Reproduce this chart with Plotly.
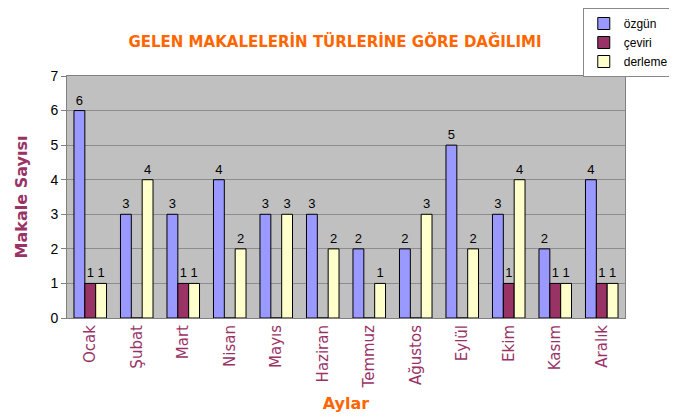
import plotly.graph_objects as go

months = ["Ocak", "Şubat", "Mart", "Nisan", "Mayıs", "Haziran", "Temmuz",
          "Ağustos", "Eylül", "Ekim", "Kasım", "Aralık"]
ozgun = [6, 3, 3, 4, 3, 3, 2, 2, 5, 3, 2, 4]
ceviri = [1, 0, 1, 0, 0, 0, 0, 0, 0, 1, 1, 1]
derleme = [1, 4, 1, 2, 3, 2, 1, 3, 2, 4, 1, 1]

series = [("özgün", ozgun, "#9999FF"), ("çeviri", ceviri, "#993366"), ("derleme", derleme, "#FFFFCC")]

fig = go.Figure()
for name, vals, col in series:
    fig.add_trace(go.Bar(
        x=months, y=vals, name=name,
        marker=dict(color=col, line=dict(color="black", width=1)),
        text=[str(v) if v else "" for v in vals],
        textposition="outside", cliponaxis=False,
        textfont=dict(family="Liberation Sans", size=13, color="black"),
    ))

fig.update_layout(
    width=677, height=419,
    margin=dict(l=59, r=60, t=68, b=109, autoexpand=False),
    paper_bgcolor="white", plot_bgcolor="#C0C0C0",
    barmode="group", bargap=0.3, bargroupgap=0,
    font=dict(family="DejaVu Sans"),
    title=dict(text="<b>GELEN MAKALELERİN TÜRLERİNE GÖRE DAĞILIMI</b>",
               x=0.483, xanchor="center", y=0.919, yanchor="middle",
               font=dict(size=15, color="#FF6600", family="DejaVu Sans")),
    showlegend=True,
    legend=dict(xref="container", yref="container", x=0.849, y=1.0,
                xanchor="left", yanchor="top", bgcolor="white",
                bordercolor="#888888", borderwidth=1,
                font=dict(size=12, color="black", family="Liberation Sans"),
                tracegroupgap=0, itemwidth=30),
)
fig.update_xaxes(
    automargin=False,
    tickangle=-90, tickfont=dict(size=15, color="#993366"),
    showline=True, linecolor="#808080", mirror=True,
    title=dict(text="<b>Aylar</b>", font=dict(size=16, color="#FF6600"), standoff=10),
    ticks="", showgrid=False,
)
fig.update_yaxes(
    automargin=False,
    range=[0, 7], dtick=1, tickfont=dict(size=14, color="black", family="Liberation Sans"),
    showgrid=True, gridcolor="#8C8C8C", gridwidth=1,
    showline=True, linecolor="#808080", mirror=True, zeroline=False,
    ticks="outside", ticklen=5, tickcolor="#808080",
    title=dict(text="<b>Makale Sayısı</b>", font=dict(size=16, color="#993366"), standoff=18),
)

fig.write_html("out.html")
